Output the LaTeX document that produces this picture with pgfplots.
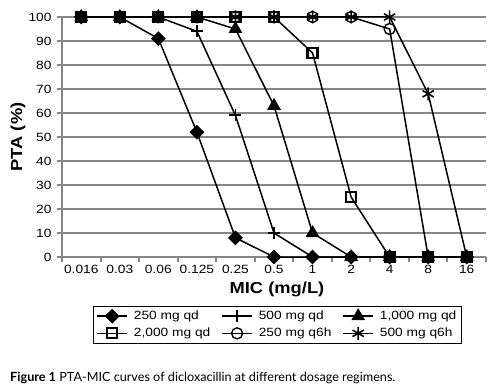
\documentclass[border=0pt]{standalone}
\usepackage{pgfplots}
\pgfplotsset{compat=1.18}
\usepackage{fontspec}
\setmainfont{Liberation Sans}[FakeStretch=1.15]
\newfontfamily\capfont{Lato}
\definecolor{gridgray}{RGB}{134,134,134}
\begin{document}
\begin{tikzpicture}[x=1bp,y=1bp]
\path[use as bounding box] (0,0) rectangle (497,387);
\begin{axis}[
  at={(62bp,130bp)}, anchor=south west,
  scale only axis, width=424bp, height=240bp,
  xmin=-0.5, xmax=10.5, ymin=0, ymax=100,
  clip=false,
  axis x line*=bottom, axis y line*=left,
  axis line style={draw=gridgray, line width=2.4bp},
  tick align=outside,
  tick style={draw=gridgray, line width=2bp},
  major tick length=5bp,
  xtick={-0.5,0.5,...,10.5},
  xticklabels={},
  extra x ticks={0,1,2,3,4,5,6,7,8,9,10},
  extra x tick labels={0.016,0.03,0.06,0.125,0.25,0.5,1,2,4,8,16},
  extra x tick style={major tick length=0pt, xticklabel style={yshift=-5bp}},
  ytick={0,10,...,100},
  ymajorgrids=true,
  major grid style={draw=gridgray, line width=2bp},
  /pgf/number format/assume math mode=true,
  ticklabel style={font=\fontsize{12}{14}\selectfont, text=black},
  yticklabel style={xshift=-2bp},
  xlabel={\textbf{MIC (mg/L)}},
  ylabel={\textbf{PTA (\%)}},
  label style={font=\fontsize{16}{18}\selectfont},
  xlabel style={at={(axis description cs:0.507,-0.133)}, anchor=center},
  ylabel style={at={(axis description cs:-0.104,0.5)}, anchor=center, rotate=0},
  legend columns=3,
  legend style={at={(0.508,-0.203)}, anchor=north, draw=black, line width=0.8bp,
    font=\fontsize{12}{14}\selectfont, inner xsep=3bp, inner ysep=3bp, row sep=3bp,
    /tikz/every odd column/.append style={column sep=4bp},
    /tikz/every even column/.append style={column sep=9bp}},
  legend cell align=left,
  legend image code/.code={
    \draw[mark repeat=2,mark phase=2] plot coordinates {(0bp,0bp) (15bp,0bp) (30bp,0bp)};
  },
]
\addplot[black, line width=1.5bp, mark=square*, mark size=4.5bp, mark options={rotate=45, solid}]
  coordinates {(0,100)(1,100)(2,91)(3,52)(4,8)(5,0)(6,0)(7,0)(8,0)(9,0)(10,0)};
\addlegendentry{250 mg qd}
\addplot[black, line width=1.5bp, mark=+, mark size=6bp, mark options={line width=1.8bp}]
  coordinates {(0,100)(1,100)(2,100)(3,94)(4,59)(5,10)(6,0)(7,0)(8,0)(9,0)(10,0)};
\addlegendentry{500 mg qd}
\addplot[black, line width=1.5bp, mark=triangle*, mark size=6.5bp]
  coordinates {(0,100)(1,100)(2,100)(3,100)(4,95)(5,63)(6,10)(7,0)(8,0)(9,0)(10,0)};
\addlegendentry{1,000 mg qd}
\addplot[black, line width=1.5bp, mark=square, mark size=5bp, mark options={line width=2.2bp}]
  coordinates {(0,100)(1,100)(2,100)(3,100)(4,100)(5,100)(6,85)(7,25)(8,0)(9,0)(10,0)};
\addlegendentry{2,000 mg qd}
\addplot[black, line width=1.5bp, mark=o, mark size=5.5bp, mark options={line width=1.4bp}]
  coordinates {(0,100)(1,100)(2,100)(3,100)(4,100)(5,100)(6,100)(7,100)(8,95)(9,0)(10,0)};
\addlegendentry{250 mg q6h}
\addplot[black, line width=1.5bp, mark=asterisk, mark size=6.5bp, mark options={line width=1.6bp}]
  coordinates {(0,100)(1,100)(2,100)(3,100)(4,100)(5,100)(6,100)(7,100)(8,100)(9,68)(10,0)};
\addlegendentry{500 mg q6h}
\end{axis}
\node[anchor=base west, inner sep=0pt, font=\capfont\fontsize{12.7}{14}\selectfont] at (10,6)
  {\textbf{Figure 1} PTA-MIC curves of dicloxacillin at different dosage regimens.};
\end{tikzpicture}
\end{document}
